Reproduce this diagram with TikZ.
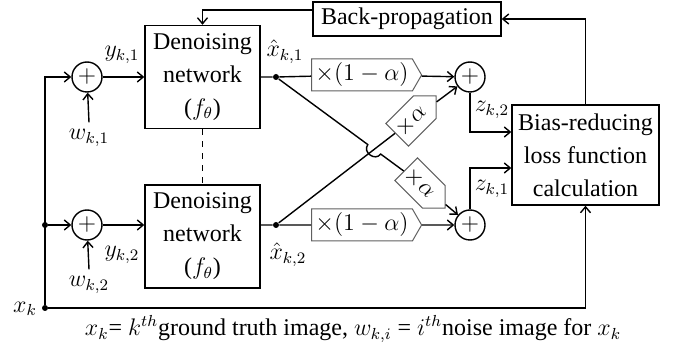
\documentclass[tikz,border=0pt]{standalone}
\usepackage{fontspec}
\setmainfont{Liberation Serif}
\usetikzlibrary{arrows.meta,shapes.symbols,calc}

\begin{document}
\begin{tikzpicture}[
  x=0.5pt, y=-0.5pt,
  every node/.style={font=\fontsize{12}{16.5}\selectfont},
  block/.style={draw, line width=0.7pt, align=center, inner sep=0pt},
  adder/.style={draw, circle, line width=0.7pt, minimum size=15pt, inner sep=0pt},
  gain/.style={draw=gray!75!black, line width=0.5pt, signal, signal to=east,
    signal pointer angle=120, minimum width=55pt, minimum height=16pt, inner sep=0pt},
  mix/.style={gain, signal pointer angle=90, minimum width=27.5pt},
  junc/.style={circle, fill, inner sep=0pt, minimum size=3pt},
  arr/.style={-{Straight Barb[length=3pt, width=5pt]}, line width=0.7pt},
  wire/.style={line width=0.7pt},
]
\useasboundingbox (0,0) rectangle (675,347);

%% Networks and loss
\node[block, minimum width=57.5pt, minimum height=51.5pt] (den1) at (202.5, 77)
  {Denoising\\network\\($f_\theta$)};
\node[block, minimum width=57.5pt, minimum height=51.5pt] (den2) at (202.5, 236.5)
  {Denoising\\network\\($f_\theta$)};
\node[block, minimum width=94pt, minimum height=17pt] (bp) at (407, 19) {Back-propagation};
\node[block, minimum width=73.5pt, minimum height=50pt] (bias) at (585.5, 155)
  {Bias-reducing\\loss function\\calculation};

%% Adders
\node[adder] (sum1) at (87, 77) {$+$};
\node[adder] (sum2) at (87, 225) {$+$};
\node[adder] (sum3) at (470, 77) {$+$};
\node[adder] (sum4) at (470, 225) {$+$};

%% Weights
\node[gain] (g1) at (362, 75) {$\times(1-\alpha)$};
\node[gain] (g2) at (362, 225) {$\times(1-\alpha)$};
\node[mix, rotate=45] (a1) at (411, 121) {$\times\alpha$};
\node[mix, rotate=-45] (a2) at (420, 183) {$\times\alpha$};

%% Junctions
\node[junc] (d1) at (276, 77) {};
\node[junc] (d2) at (276, 225) {};
\node[junc] (dl) at (45, 225) {};
\node[junc] (xk) at (45, 308) {};

%% Labels
\node (lxk) at (25, 309) {$x_k$};
\node (lw1) at (89, 138) {$w_{k,1}$};
\node (lw2) at (89, 285) {$w_{k,2}$};
\node at (122, 55) {$y_{k,1}$};
\node at (122, 255) {$y_{k,2}$};
\node at (285, 52) {$\hat{x}_{k,1}$};
\node at (288, 255) {$\hat{x}_{k,2}$};
\node at (492, 110) {$z_{k,2}$};
\node at (492, 189) {$z_{k,1}$};
\node (cap) at (353, 329)
  {$x_k$= $k^{th}$ground truth image, $w_{k,i}$ = $i^{th}$noise image for $x_k$};

%% Inputs
\draw[arr] (xk) |- (sum1);
\draw[arr] (dl) -- (sum2);
\draw[arr] (lw1.north) -- (sum1);
\draw[arr] (lw2.north) -- (sum2);
\draw[arr] (sum1) -- (den1);
\draw[arr] (sum2) -- (den2.west |- sum2);
\draw[dashed, wire] (den1) -- (den2);

%% Outputs and mixing
\draw[wire] (den1.east |- d1) -- (d1) -- (g1);
\draw[wire] (den2.east |- d2) -- (d2) -- (g2);
\draw[arr] (g1) -- (sum3);
\draw[arr] (g2) -- (sum4);
\coordinate (cx) at (intersection of d1--a2 and d2--a1);
\draw[wire] (d2) -- (a1);
\draw[wire] (d1) -- ($(cx)!4pt!(d1)$)
  to[bend right=90, looseness=1.5] ($(cx)!4pt!(a2)$) -- (a2);
\draw[arr] (a1) -- (sum3);
\draw[arr] (a2) -- (sum4);

%% Loss and feedback
\draw[arr] (sum3) |- ([yshift=11.5pt]bias.west);
\draw[arr] (sum4) |- ([yshift=-6.5pt]bias.west);
\draw[arr] (xk) -| (bias.south);
\draw[arr] (bias.north) |- (bp.east);
\draw[arr] ([yshift=4.5pt]bp.west) -| (den1.north);

\end{tikzpicture}
\end{document}
